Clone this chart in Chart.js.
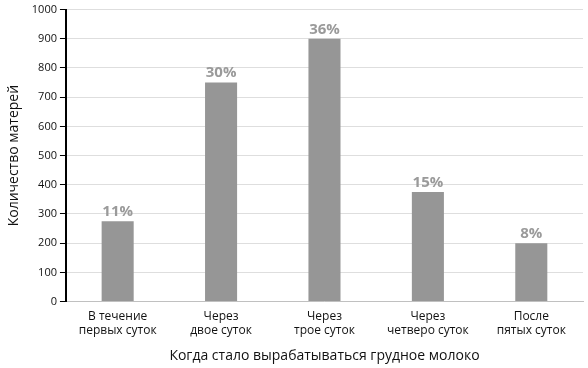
<!DOCTYPE html>
<html>
<head>
<meta charset="utf-8">
<script src="https://cdn.jsdelivr.net/npm/chart.js@4/dist/chart.umd.min.js"></script>
<style>
  html, body { margin: 0; padding: 0; background: #fff; }
  #wrap { width: 588px; height: 368px; }
</style>
</head>
<body>
<div id="wrap"><canvas id="chart"></canvas></div>
<script>
// categories (x axis, two lines each)
const labels = [
  ['В течение', 'первых суток'],
  ['Через', 'двое суток'],
  ['Через', 'трое суток'],
  ['Через', 'четверо суток'],
  ['После', 'пятых суток']
];
// number of mothers
const mothers = [275, 750, 900, 375, 200];
// share labels above the bars
const shares = ['11%', '30%', '36%', '15%', '8%'];

const FONT = '"Open Sans", "Noto Sans", sans-serif';

// draw the percent labels on top of each bar
const shareLabels = {
  id: 'shareLabels',
  afterDatasetsDraw(chart) {
    const ctx = chart.ctx;
    const meta = chart.getDatasetMeta(0);
    ctx.save();
    ctx.font = 'bold 15px ' + FONT;
    ctx.fillStyle = '#9a9a9a';
    ctx.textAlign = 'center';
    ctx.textBaseline = 'bottom';
    meta.data.forEach((bar, i) => {
      ctx.fillText(shares[i], bar.x, bar.y - 2);
    });
    ctx.restore();
  }
};

new Chart(document.getElementById('chart'), {
  type: 'bar',
  data: {
    labels: labels,
    datasets: [{
      data: mothers,
      backgroundColor: '#969696',
      barPercentage: 0.31,
      categoryPercentage: 1
    }]
  },
  options: {
    responsive: true,
    maintainAspectRatio: false,
    animation: false,
    layout: { padding: { top: 4, right: 5, left: 2, bottom: 0 } },
    plugins: {
      legend: { display: false },
      tooltip: { enabled: false }
    },
    scales: {
      x: {
        grid: { display: false },
        border: { color: '#c0c0c0', width: 1 },
        ticks: { color: '#111', font: { family: FONT, size: 12, lineHeight: 1.15 }, padding: 0, maxRotation: 0 },
        title: {
          display: true,
          text: 'Когда стало вырабатываться грудное молоко',
          color: '#111',
          font: { family: FONT, size: 14 },
          padding: { top: 10 }
        }
      },
      y: {
        min: 0,
        max: 1000,
        ticks: {
          stepSize: 100,
          color: '#111',
          font: { family: FONT, size: 11 },
          padding: 3,
          callback: v => String(v)
        },
        grid: { color: '#dedede', tickColor: '#000', tickLength: 6 },
        border: { color: '#000', width: 2 },
        title: {
          display: true,
          text: 'Количество матерей',
          color: '#111',
          font: { family: FONT, size: 14 },
          padding: { bottom: 6 }
        }
      }
    }
  },
  plugins: [shareLabels]
});
</script>
</body>
</html>
